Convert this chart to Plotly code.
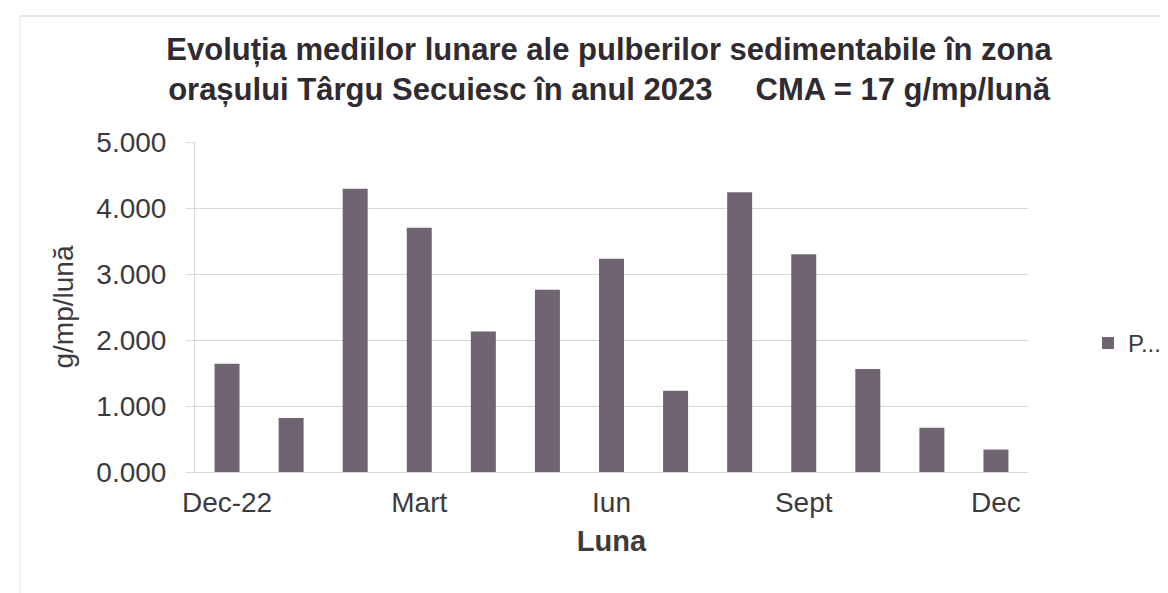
import plotly.graph_objects as go

months = ["Dec-22", "Ian", "Feb", "Mart", "Apr", "Mai", "Iun",
          "Iul", "Aug", "Sept", "Oct", "Nov", "Dec"]
values = [1.64, 0.82, 4.29, 3.70, 2.13, 2.76, 3.23,
          1.23, 4.24, 3.30, 1.56, 0.67, 0.34]
shown_ticks = ["Dec-22", "Mart", "Iun", "Sept", "Dec"]
series_name = "P..."

title_text = ("<b>Evoluția mediilor lunare ale pulberilor sedimentabile în zona<br>"
              "orașului Târgu Secuiesc în anul 2023\u00a0\u00a0\u00a0\u00a0\u00a0CMA = 17 g/mp/lună</b>")

FONT = "Liberation Sans, Arial, sans-serif"
GRID = "#d9d6de"
TXT = "#3c3a3d"

fig = go.Figure()
fig.add_trace(go.Bar(
    x=months, y=values, name=series_name,
    marker=dict(color="#6e6571", line=dict(width=0)),
    showlegend=True,
))

fig.update_layout(
    width=1168, height=593,
    margin=dict(l=187, r=148, t=134, b=129, autoexpand=False),
    paper_bgcolor="white", plot_bgcolor="white",
    bargap=0.61,
    font=dict(family=FONT, color=TXT),
    title=dict(text=title_text, x=0.497, xanchor="center", xref="paper",
               y=1 - 52 / 593, yref="container", yanchor="middle",
               font=dict(size=31, color="#302b30", family=FONT)),
    showlegend=True,
    legend=dict(x=1.072, xanchor="left", y=0.39, yanchor="middle",
                font=dict(size=24, color=TXT), itemwidth=30,
                bgcolor="rgba(0,0,0,0)"),
    xaxis=dict(type="category", tickvals=shown_ticks, ticktext=shown_ticks,
               showgrid=False, showline=True, linecolor=GRID, linewidth=1,
               ticks="", tickfont=dict(size=28, color=TXT),
               ticklabelstandoff=5,
               title=dict(text="<b>Luna</b>", font=dict(size=29, color=TXT), standoff=14)),
    yaxis=dict(range=[0, 5], dtick=1, tickformat=".3f",
               showgrid=True, gridcolor=GRID, gridwidth=1,
               showline=True, linecolor=GRID, linewidth=1,
               ticks="outside", ticklen=8, tickcolor=GRID,
               tickfont=dict(size=28, color=TXT), ticklabelstandoff=14,
               zeroline=False,
               title=dict(text="g/mp/lună", font=dict(size=28, color=TXT), standoff=14)),
    shapes=[
        dict(type="line", xref="paper", yref="paper",
             x0=(12 - 187) / 833, x1=(1168 - 187) / 833,
             y0=(464 - 8) / 330, y1=(464 - 8) / 330,
             line=dict(color="#cfcfd4", width=1)),
        dict(type="line", xref="paper", yref="paper",
             x0=(12 - 187) / 833, x1=(12 - 187) / 833,
             y0=(464 - 8) / 330, y1=(464 - 593) / 330,
             line=dict(color="#e4e4e8", width=1)),
    ],
)

fig.write_html("out.html")
